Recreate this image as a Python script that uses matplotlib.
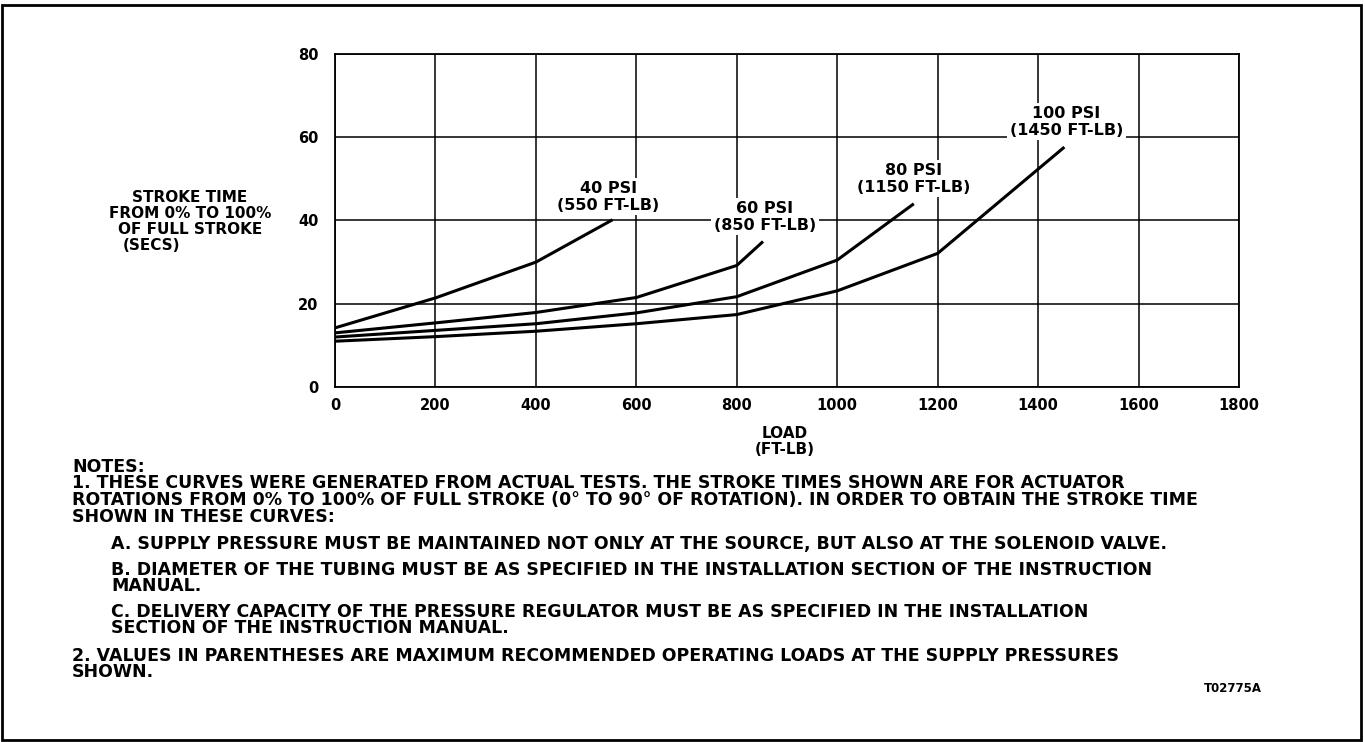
import matplotlib
matplotlib.use("Agg")
import matplotlib.pyplot as plt
from matplotlib.patches import Rectangle

plt.rcParams['font.family'] = ['DejaVu Sans']

# load (ft-lb) vs stroke time (secs) for each supply pressure
load_40 = [0, 200, 400, 550]
time_40 = [14.2, 21.4, 30.0, 40.0]
load_60 = [0, 200, 400, 600, 800, 850]
time_60 = [13.0, 15.4, 17.9, 21.5, 29.2, 34.7]
load_80 = [0, 200, 400, 600, 800, 1000, 1150]
time_80 = [12.0, 13.6, 15.2, 17.8, 21.7, 30.5, 43.8]
load_100 = [0, 200, 400, 600, 800, 1000, 1200, 1450]
time_100 = [11.0, 12.1, 13.4, 15.2, 17.4, 23.1, 32.1, 57.4]

curve_labels = ['40 PSI\n(550 FT-LB)', '60 PSI\n(850 FT-LB)',
                '80 PSI\n(1150 FT-LB)', '100 PSI\n(1450 FT-LB)']
label_x = [544, 856, 1152, 1456]
label_y = [45.7, 40.9, 50.0, 63.7]

x_ticks = [0, 200, 400, 600, 800, 1000, 1200, 1400, 1600, 1800]
y_ticks = [0, 20, 40, 60, 80]

notes = [
    "NOTES:",
    "1. THESE CURVES WERE GENERATED FROM ACTUAL TESTS. THE STROKE TIMES SHOWN ARE FOR ACTUATOR",
    "ROTATIONS FROM 0% TO 100% OF FULL STROKE (0\u00b0 TO 90\u00b0 OF ROTATION). IN ORDER TO OBTAIN THE STROKE TIME",
    "SHOWN IN THESE CURVES:",
    "A. SUPPLY PRESSURE MUST BE MAINTAINED NOT ONLY AT THE SOURCE, BUT ALSO AT THE SOLENOID VALVE.",
    "B. DIAMETER OF THE TUBING MUST BE AS SPECIFIED IN THE INSTALLATION SECTION OF THE INSTRUCTION",
    "MANUAL.",
    "C. DELIVERY CAPACITY OF THE PRESSURE REGULATOR MUST BE AS SPECIFIED IN THE INSTALLATION",
    "SECTION OF THE INSTRUCTION MANUAL.",
    "2. VALUES IN PARENTHESES ARE MAXIMUM RECOMMENDED OPERATING LOADS AT THE SUPPLY PRESSURES",
    "SHOWN.",
]
note_x = [72, 72, 72, 72, 111, 111, 111, 111, 111, 72, 72]
note_y = [467, 483, 500, 517, 544, 570, 586, 612, 628, 656, 672]

W, H = 1365, 742
fig = plt.figure(figsize=(W / 100, H / 100), dpi=100)

# outer frame
fig.add_artist(Rectangle((2 / W, 2 / H), (W - 6) / W, (H - 7) / H, transform=fig.transFigure,
                         fill=False, edgecolor='black', linewidth=2))

ax = fig.add_axes([335 / W, (H - 387) / H, (1239 - 335) / W, (387 - 54) / H])
ax.set_xlim(0, 1800)
ax.set_ylim(0, 80)
ax.set_xticks(x_ticks)
ax.set_yticks(y_ticks)
ax.grid(True, color='black', linewidth=1.1)
ax.tick_params(length=0, labelsize=10.5)
ax.tick_params(axis='x', pad=8)
ax.tick_params(axis='y', pad=12)
for lab in ax.get_xticklabels() + ax.get_yticklabels():
    lab.set_fontweight('bold')
for s in ax.spines.values():
    s.set_linewidth(1.3)

for xs, ys in [(load_40, time_40), (load_60, time_60), (load_80, time_80), (load_100, time_100)]:
    ax.plot(xs, ys, color='black', linewidth=2.2, zorder=3)

for txt, lx, ly in zip(curve_labels, label_x, label_y):
    ax.text(lx, ly, txt, ha='center', va='center', fontsize=11.5, fontweight='bold',
            linespacing=1.15, zorder=4,
            bbox=dict(facecolor='white', edgecolor='none', pad=2))

# y-axis title
fig.text(190 / W, 1 - 198 / H, "STROKE TIME", ha='center', va='center', fontsize=11, fontweight='bold')
fig.text(190 / W, 1 - 214 / H, "FROM 0% TO 100%", ha='center', va='center', fontsize=11, fontweight='bold')
fig.text(190 / W, 1 - 230 / H, "OF FULL STROKE", ha='center', va='center', fontsize=11, fontweight='bold')
fig.text(123 / W, 1 - 246 / H, "(SECS)", ha='left', va='center', fontsize=11, fontweight='bold')

# x-axis title
fig.text(785 / W, 1 - 433 / H, "LOAD", ha='center', va='center', fontsize=11, fontweight='bold')
fig.text(785 / W, 1 - 450 / H, "(FT-LB)", ha='center', va='center', fontsize=11, fontweight='bold')

for txt, nx, ny in zip(notes, note_x, note_y):
    fig.text(nx / W, 1 - ny / H, txt, ha='left', va='center', fontsize=12.5, fontweight='bold')

fig.text(1262 / W, 1 - 688 / H, "T02775A", ha='right', va='center', fontsize=8.5, fontweight='bold')

fig.savefig('out.png', dpi=100)
